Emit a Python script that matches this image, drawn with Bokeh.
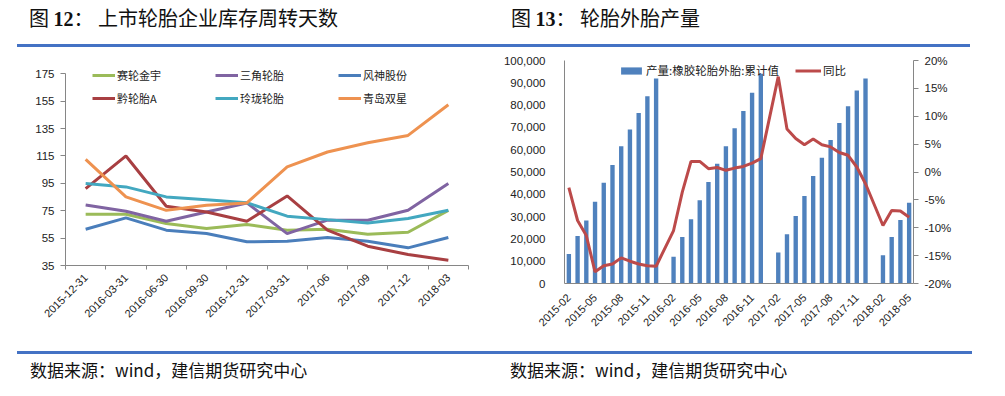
import math
from bokeh.plotting import figure
from bokeh.models import (Range1d, LinearAxis, FixedTicker, Legend, LegendItem, Div,
                          PrintfTickFormatter, NumeralTickFormatter)
from bokeh.layouts import column, row
from bokeh.embed import file_html
from bokeh.resources import INLINE

# ---------------- data: left chart (inventory turnover days) ----------------
left_dates = ["2015-12-31", "2016-03-31", "2016-06-30", "2016-09-30", "2016-12-31",
              "2017-03-31", "2017-06", "2017-09", "2017-12", "2018-03"]
sailun = [72.4, 72.4, 65.6, 62.0, 64.9, 60.8, 61.5, 57.8, 59.3, 75.3]
sanjiao = [79.2, 74.6, 67.3, 74.1, 80.7, 58.3, 68.1, 68.1, 75.3, 94.8]
fengshen = [61.5, 69.8, 60.8, 58.3, 52.3, 52.7, 55.4, 52.7, 47.9, 55.4]
qianluntai = [91.1, 115.0, 78.3, 74.1, 67.3, 85.8, 60.8, 49.1, 43.0, 38.9]
linglong = [94.8, 92.4, 85.1, 83.1, 80.9, 71.0, 68.5, 66.1, 69.3, 75.3]
qingdao = [112.5, 85.1, 75.3, 79.0, 80.7, 107.0, 117.9, 124.7, 130.0, 152.4]
left_names = ["赛轮金宇", "三角轮胎", "风神股份", "黔轮胎A", "玲珑轮胎", "青岛双星"]
left_y_ticks = [35, 55, 75, 95, 115, 135, 155, 175]

# ---------------- data: right chart (tyre production) ----------------
months = ["2015-02", "2015-03", "2015-04", "2015-05", "2015-06", "2015-07", "2015-08",
          "2015-09", "2015-10", "2015-11", "2015-12",
          "2016-01", "2016-02", "2016-03", "2016-04", "2016-05", "2016-06", "2016-07",
          "2016-08", "2016-09", "2016-10", "2016-11", "2016-12",
          "2017-01", "2017-02", "2017-03", "2017-04", "2017-05", "2017-06", "2017-07",
          "2017-08", "2017-09", "2017-10", "2017-11", "2017-12",
          "2018-01", "2018-02", "2018-03", "2018-04", "2018-05"]
production = [13200, 21300, 28200, 36700, 45200, 53100, 61500, 69100, 76500, 84000, 91900,
              None, 12000, 20800, 28800, 37300, 45500, 53700, 61600, 69600, 77300, 85500, 94100,
              None, 13900, 22100, 30300, 39200, 48200, 56400, 64300, 72000, 79500, 86500, 91900,
              None, 12700, 20900, 28500, 36200]
yoy_pct = [-2.8, -8.7, -11.4, -17.9, -16.8, -16.5, -15.4, -16.0, -16.5, -16.8, -16.9,
           None, -10.5, -3.6, 1.9, 1.9, 0.6, 0.8, 0.3, 0.7, 1.0, 1.6, 2.4,
           None, 17.1, 7.7, 6.0, 4.9, 5.9, 4.9, 4.5, 3.5, 3.0, 0.9, -2.1,
           None, -9.6, -6.9, -7.0, -8.1]
right_names = ["产量:橡胶轮胎外胎:累计值", "同比"]
right_y_ticks = [0, 10000, 20000, 30000, 40000, 50000, 60000, 70000, 80000, 90000, 100000]
right_pct_ticks = [-20, -15, -10, -5, 0, 5, 10, 15, 20]

AXIS_GRAY = "#868686"
LABEL_COLOR = "#222222"
TICK_FONT = "Liberation Sans"
CJK_FONT = "Noto Sans CJK SC"

# both figures share the same top/bottom borders so row alignment cannot move frames
BORDER_TOP = 10
BORDER_BOTTOM = 75

# ---------------- left figure ----------------
p1 = figure(width=500, height=290, x_range=Range1d(-0.5, len(left_dates) - 0.5),
            y_range=Range1d(35, 184.7), output_backend="svg", toolbar_location=None,
            min_border_left=65, min_border_right=32, min_border_top=BORDER_TOP,
            min_border_bottom=BORDER_BOTTOM)
p1.xgrid.visible = False
p1.ygrid.visible = False
p1.outline_line_color = None

xi = list(range(len(left_dates)))
colors = ["#9BBB59", "#8064A2", "#4A7EBB", "#A83F42", "#43A8C0", "#EE9250"]
series = [sailun, sanjiao, fengshen, qianluntai, linglong, qingdao]
renderers = []
for vals, col in zip(series, colors):
    r = p1.line(xi, vals, line_color=col, line_width=3)
    renderers.append(r)

xa = p1.xaxis[0]
xa.ticker = FixedTicker(ticks=xi, minor_ticks=[i - 0.5 for i in range(len(left_dates) + 1)])
xa.major_label_overrides = {i: d for i, d in enumerate(left_dates)}
xa.major_label_orientation = math.pi / 4
xa.major_tick_line_color = None
xa.minor_tick_line_color = AXIS_GRAY
xa.minor_tick_in = 0
xa.minor_tick_out = 4
xa.axis_line_color = AXIS_GRAY
xa.major_label_text_font = TICK_FONT
xa.major_label_text_font_size = "11px"
xa.major_label_text_color = LABEL_COLOR
xa.major_label_standoff = 4

ya = p1.yaxis[0]
ya.ticker = FixedTicker(ticks=left_y_ticks, minor_ticks=[])
ya.bounds = (left_y_ticks[0], left_y_ticks[-1])
ya.axis_line_color = AXIS_GRAY
ya.major_tick_line_color = AXIS_GRAY
ya.major_tick_in = 0
ya.major_tick_out = 5
ya.minor_tick_line_color = None
ya.major_label_text_font = TICK_FONT
ya.major_label_text_font_size = "11.5px"
ya.major_label_text_color = LABEL_COLOR
ya.major_label_standoff = 6


def make_legend(items, loc):
    return Legend(items=items, orientation="horizontal", location=loc,
                  glyph_width=23, glyph_height=14, label_height=14, label_width=88,
                  label_standoff=2, spacing=10, padding=0, margin=0,
                  background_fill_alpha=0, border_line_color=None,
                  label_text_font=CJK_FONT, label_text_font_size="11px",
                  label_text_color=LABEL_COLOR)


items = [LegendItem(label=n, renderers=[r]) for n, r in zip(left_names, renderers)]
p1.add_layout(make_legend(items[:3], (27, 182)))
p1.add_layout(make_legend(items[3:], (27, 159)))

# ---------------- right figure ----------------
p2 = figure(width=497, height=308, x_range=Range1d(-0.5, len(months) - 0.5),
            y_range=Range1d(0, 100000), output_backend="svg", toolbar_location=None,
            min_border_left=62, min_border_right=84, min_border_top=BORDER_TOP,
            min_border_bottom=BORDER_BOTTOM)
p2.xgrid.visible = False
p2.ygrid.visible = False
p2.outline_line_color = None
p2.extra_y_ranges = {"pct": Range1d(-20, 20)}

bx = [i for i, v in enumerate(production) if v is not None]
bv = [v for v in production if v is not None]
bars = p2.vbar(x=bx, top=bv, width=0.5, fill_color="#4F81BD", line_color=None)

lx = [i for i, v in enumerate(yoy_pct) if v is not None]
lv = [v for v in yoy_pct if v is not None]
yline = p2.line(lx, lv, y_range_name="pct", line_color="#BC4A4A", line_width=3)

xa2 = p2.xaxis[0]
label_idx = list(range(0, len(months), 3))
xa2.ticker = FixedTicker(ticks=label_idx, minor_ticks=[])
xa2.major_label_overrides = {i: months[i] for i in label_idx}
xa2.major_label_orientation = math.pi / 4
xa2.major_tick_line_color = None
xa2.minor_tick_line_color = None
xa2.axis_line_color = AXIS_GRAY
xa2.major_label_text_font = TICK_FONT
xa2.major_label_text_font_size = "11px"
xa2.major_label_text_color = LABEL_COLOR
xa2.major_label_standoff = 6

ya2 = p2.yaxis[0]
ya2.ticker = FixedTicker(ticks=right_y_ticks, minor_ticks=[])
ya2.formatter = NumeralTickFormatter(format="0,0")
ya2.axis_line_color = AXIS_GRAY
ya2.major_tick_line_color = None
ya2.minor_tick_line_color = None
ya2.major_label_text_font = TICK_FONT
ya2.major_label_text_font_size = "11.5px"
ya2.major_label_text_color = LABEL_COLOR
ya2.major_label_standoff = 13

ax_r = LinearAxis(y_range_name="pct", ticker=FixedTicker(ticks=right_pct_ticks, minor_ticks=[]),
                  formatter=PrintfTickFormatter(format="%d%%"))
ax_r.axis_line_color = AXIS_GRAY
ax_r.major_tick_line_color = AXIS_GRAY
ax_r.major_tick_in = 0
ax_r.major_tick_out = 5
ax_r.minor_tick_line_color = None
ax_r.major_label_text_font = TICK_FONT
ax_r.major_label_text_font_size = "11.5px"
ax_r.major_label_text_color = LABEL_COLOR
ax_r.major_label_standoff = 6
p2.add_layout(ax_r, "right")

lg2 = Legend(items=[LegendItem(label=right_names[0], renderers=[bars]),
                    LegendItem(label=right_names[1], renderers=[yline])],
             orientation="horizontal", location=(54, 205),
             glyph_width=26, glyph_height=9, label_height=12,
             label_standoff=2, spacing=16, padding=0, margin=0,
             background_fill_alpha=0, border_line_color=None,
             label_text_font=CJK_FONT, label_text_font_size="11.5px",
             label_text_color=LABEL_COLOR)
p2.add_layout(lg2)

# ---------------- header / footer ----------------
title_style = ("position:absolute;top:6px;font-family:'Noto Sans CJK SC';font-size:20px;"
               "line-height:24px;color:#111;white-space:nowrap;")
header_html = (
    '<div style="position:relative;width:997px;height:50px;">'
    f'<div style="{title_style}left:29px;">图 <b style="font-family:\'Liberation Serif\'">12</b>：&nbsp;上市轮胎企业库存周转天数</div>'
    f'<div style="{title_style}left:511px;">图 <b style="font-family:\'Liberation Serif\'">13</b>：&nbsp;轮胎外胎产量</div>'
    '<div style="position:absolute;left:17px;top:44px;width:953px;height:3px;background:#4472C4;"></div>'
    '</div>')
header = Div(text=header_html, width=997, height=50, margin=0)

foot_style = ("position:absolute;top:20px;font-family:'Noto Sans CJK SC';font-size:17px;"
              "line-height:20px;color:#111;white-space:nowrap;")
footer_html = (
    '<div style="position:relative;width:997px;height:54px;">'
    '<div style="position:absolute;left:17px;top:11px;width:955px;height:3px;background:#4472C4;"></div>'
    f'<div style="{foot_style}left:30px;">数据来源：wind，建信期货研究中心</div>'
    f'<div style="{foot_style}left:510px;">数据来源：wind，建信期货研究中心</div>'
    '</div>')
# the right figure is 18px taller than the left one (its frame reaches lower);
# pull the footer up over that empty strip
footer = Div(text=footer_html, width=997, height=54, margin=(-18, 0, 0, 0))

layout = column(header, row(p1, p2, spacing=0), footer, spacing=0)

with open("out.html", "w") as f:
    f.write(file_html(layout, INLINE))
